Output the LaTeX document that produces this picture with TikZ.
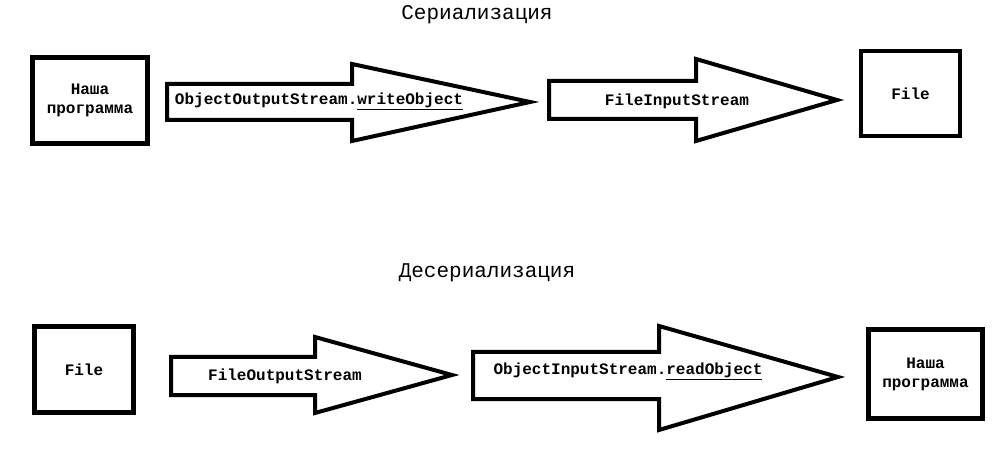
\documentclass[tikz,border=0pt]{standalone}
\usepackage{fontspec}
\setmonofont{Liberation Mono}
\usetikzlibrary{positioning}

\tikzset{
  box/.style={draw, line width=4.5pt, align=center, inner sep=0pt},
  blockarrow/.style={draw, line width=4pt, line join=miter},
  lbl/.style={font=\ttfamily\bfseries\fontsize{16}{19}\selectfont, align=center},
  heading/.style={font=\ttfamily\fontsize{21}{24}\selectfont},
}

\begin{document}
\begin{tikzpicture}[x=1pt, y=-1pt]

\useasboundingbox (0,0) rectangle (997,449);

% --- Serialization (top row) ---
\node[heading] (sertitle) at (477,15) {Сериализация};

\node[box, lbl, minimum width=115pt, minimum height=86pt] (prog1) at (90,100.5) {Наша\\программа};
\node[box, lbl, minimum width=99pt, minimum height=85pt] (file1) at (910.5,93.5) {File};

% block arrows
\draw[blockarrow] (167,84) -- (352,84) -- (352,64) -- (530,102) -- (352,141) -- (352,120) -- (167,120) -- cycle;
\draw[blockarrow] (549,81) -- (696,81) -- (696,59) -- (837,100) -- (696,141) -- (696,119) -- (549,119) -- cycle;

\node[lbl] (wobj) at (319,101) {ObjectOutputStream.\underline{writeObject}};
\node[lbl] (fin) at (677,101) {FileInputStream};

% --- Deserialization (bottom row) ---
\node[heading] (desertitle) at (487,273) {Десериализация};

\node[box, lbl, minimum width=99pt, minimum height=86pt] (file2) at (84,369.5) {File};
\node[box, lbl, minimum width=114pt, minimum height=89pt] (prog2) at (925.5,374) {Наша\\программа};

% block arrows
\draw[blockarrow] (171,357) -- (315,357) -- (315,337) -- (452,375) -- (315,413) -- (315,395) -- (171,395) -- cycle;
\draw[blockarrow] (473,352) -- (659,352) -- (659,326) -- (838,377) -- (659,430) -- (659,399) -- (473,399) -- cycle;

\node[lbl] (fout) at (285,376) {FileOutputStream};
\node[lbl] (robj) at (628,371) {ObjectInputStream.\underline{readObject}};

\end{tikzpicture}
\end{document}
